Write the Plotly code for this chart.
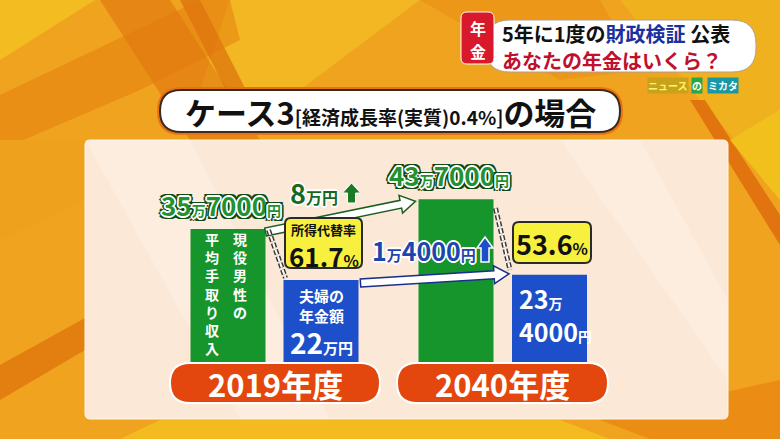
import plotly.graph_objects as go

# ---------------- data ----------------
years = ["2019年度", "2040年度"]
income = [357000, 437000]          # 現役男性の平均手取り収入 (円)
pension = [220000, 234000]         # 夫婦の年金額 (円)
replacement_rate = [61.7, 53.6]    # 所得代替率 (%)
income_label = "現役男性の平均手取り収入"
pension_label = "夫婦の年金額"
rate_label = "所得代替率"
title_main = "ケース3"
title_sub = "[経済成長率(実質)0.4%]"
title_tail = "の場合"
header_tag = ["年", "金"]
header_line1 = ["5年に1度の", "財政検証", " 公表"]
header_line2 = "あなたの年金はいくら？"
logo_parts = ["ニュース", "の", "ミカタ"]

# ---------------- layout constants ----------------
W, H = 780, 439
BASE = 362                 # pixel row of the zero line
K = 133 / 357000           # pixels per yen
FONT = "Noto Sans CJK JP"
GREEN = "#17952d"
BLUE = "#1d4fca"
BAR_W = 75
green_x = [228, 456]
blue_x = [321, 549.5]


def ypx(v):
    return BASE - v * K


def P(y):
    return 1 - y / H


def yen(v):
    man, rest = divmod(int(v), 10000)
    return (man, rest)


def path_from(points):
    return "M " + " L ".join(f"{x:.2f},{P(y):.5f}" for x, y in points) + " Z"


def rrect(x0, y0, x1, y1, r):
    pts = [
        f"M {x0 + r:.2f},{P(y0):.5f}",
        f"L {x1 - r:.2f},{P(y0):.5f}",
        f"Q {x1:.2f},{P(y0):.5f} {x1:.2f},{P(y0 + r):.5f}",
        f"L {x1:.2f},{P(y1 - r):.5f}",
        f"Q {x1:.2f},{P(y1):.5f} {x1 - r:.2f},{P(y1):.5f}",
        f"L {x0 + r:.2f},{P(y1):.5f}",
        f"Q {x0:.2f},{P(y1):.5f} {x0:.2f},{P(y1 - r):.5f}",
        f"L {x0:.2f},{P(y0 + r):.5f}",
        f"Q {x0:.2f},{P(y0):.5f} {x0 + r:.2f},{P(y0):.5f}",
        "Z",
    ]
    return " ".join(pts)


def arrow_poly(x0, y0, x1, y1, hw=4, hh=10, hl=16):
    L = ((x1 - x0) ** 2 + (y1 - y0) ** 2) ** 0.5
    dx, dy = (x1 - x0) / L, (y1 - y0) / L
    nx, ny = -dy, dx
    bx, by = x1 - dx * hl, y1 - dy * hl
    pts = [
        (x0 + nx * hw, y0 + ny * hw),
        (bx + nx * hw, by + ny * hw),
        (bx + nx * hh, by + ny * hh),
        (x1, y1),
        (bx - nx * hh, by - ny * hh),
        (bx - nx * hw, by - ny * hw),
        (x0 - nx * hw, y0 - ny * hw),
    ]
    return path_from(pts)


shapes = []


def add_path(path, fill, line_color=None, line_width=0, layer="above"):
    shapes.append(dict(type="path", xref="x", yref="paper", path=path,
                       fillcolor=fill, layer=layer,
                       line=dict(color=line_color or "rgba(0,0,0,0)", width=line_width)))


def add_poly(points, fill, layer="below"):
    add_path(path_from(points), fill, layer=layer)


# ---------------- background ----------------
add_poly([(0, 0), (W, 0), (W, H), (0, H)], "#efa31e")
add_poly([(0, 0), (95, 0), (0, 60)], "#f3bd22")
add_poly([(230, 0), (420, 0), (300, 90), (200, 90)], "#f2b722")
add_poly([(100, 0), (170, 0), (260, 140), (190, 140)], "rgba(222,112,12,0.55)")
add_poly([(180, 0), (200, 0), (245, 88), (225, 88)], "rgba(215,100,10,0.6)")
add_poly([(0, 95), (0, 150), (140, 90), (240, 40), (230, 0), (200, 0)], "rgba(226,120,14,0.45)")
add_poly([(0, 140), (85, 140), (85, 200), (0, 240)], "#eea11d")
add_poly([(420, 0), (600, 0), (640, 70), (560, 80)], "rgba(236,140,18,0.5)")
add_poly([(620, 0), (W, 0), (W, 130), (735, 140), (700, 100)], "#f0b11f")
add_poly([(690, 100), (705, 100), (W, 215), (W, 245)], "rgba(220,100,10,0.75)")
add_poly([(730, 140), (W, 110), (W, 200)], "#f2c01d")
add_poly([(0, 365), (0, 400), (85, 350), (85, 318)], "rgba(222,110,12,0.7)")
add_poly([(120, H), (160, 420), (560, 420), (610, H)], "#f3bb1f")
add_poly([(600, 420), (W, 380), (W, H), (650, H)], "rgba(232,125,15,0.6)")

# panel
add_path(rrect(85, 140, 728, 419, 5), "#fbe8d7", "#fff6ea", 1, layer="below")
add_poly([(85, 140), (190, 140), (330, 419), (240, 419)], "rgba(255,255,255,0.22)")
add_poly([(560, 140), (640, 140), (728, 300), (728, 380)], "rgba(255,255,255,0.22)")

# title pill
add_path(rrect(157, 87, 623, 135, 24), "#e8740f", layer="below")
add_path(rrect(160, 90, 620, 132, 21), "#ffffff", "#3a2a20", 2, layer="below")

# header
add_path(rrect(486, 20, 756, 72, 24), "#ffffff", "#b0a090", 1, layer="below")
add_path(rrect(461, 12, 494, 64, 6), "#d8192b", "#ffffff", 1, layer="below")

# ---------------- bars ----------------
traces = [
    go.Bar(x=green_x, y=income, width=BAR_W, marker=dict(color=GREEN, line=dict(width=0)),
           hoverinfo="skip", showlegend=False),
    go.Bar(x=blue_x, y=pension, width=BAR_W, marker=dict(color=BLUE, line=dict(width=0)),
           hoverinfo="skip", showlegend=False),
]

gl = [c - BAR_W / 2 for c in green_x]
gr = [c + BAR_W / 2 for c in green_x]
bl = [c - BAR_W / 2 for c in blue_x]
br = [c + BAR_W / 2 for c in blue_x]

# arrows between years
add_path(arrow_poly(gr[0], ypx(income[0]) + 3, gl[1] - 3, ypx(income[1]) + 2, 4, 9, 15),
         "#ffffff", "#1b5e20", 1.5)
add_path(arrow_poly(br[0] + 2, ypx(pension[0]) + 3, bl[1] - 3, ypx(pension[1]) - 1, 4, 9, 15),
         "#ffffff", "#1a2f8a", 1.5)

# chains (ratio links)
for (xa, ya, xb, yb) in [(gr[0] + 3, ypx(income[0]) + 1, bl[0] + 2, ypx(pension[0]) - 2),
                         (gr[1] + 2, ypx(income[1]) + 9, bl[1] - 2, ypx(pension[1]) - 5)]:
    for w, c in [(5, "#3a3a3a"), (2, "#ffffff")]:
        shapes.append(dict(type="line", xref="x", yref="paper", x0=xa, y0=P(ya), x1=xb, y1=P(yb),
                           line=dict(color=c, width=w, dash="5px,2px"), layer="above"))

# yellow ratio boxes
add_path(rrect(285, 218, 362, 268, 6), "#f8f03e", "#2a2a2a", 2)
add_path(rrect(513, 222, 591, 263, 6), "#f8f03e", "#2a2a2a", 2)

# year pills
add_path(rrect(170, 363, 380, 403, 20), "#e3470e", "#ffffff", 2)
add_path(rrect(397, 363, 608, 403, 20), "#e3470e", "#ffffff", 2)


# up arrows
def up_arrow(cx, top, bottom, half_head, half_shaft, head_len):
    return path_from([(cx, top), (cx + half_head, top + head_len), (cx + half_shaft, top + head_len),
                      (cx + half_shaft, bottom), (cx - half_shaft, bottom),
                      (cx - half_shaft, top + head_len), (cx - half_head, top + head_len)])


add_path(up_arrow(351.5, 183, 203, 9, 4, 10), "#1b7a25", "#ffffff", 1)
add_path(up_arrow(485, 237, 262, 8, 4, 11), "#1d4fca", "#ffffff", 1.5)

# ---------------- text ----------------
ann = []


def span(t, s, color=None):
    c = f";color:{color}" if color else ""
    return f"<span style='font-size:{s}px{c}'>{t}</span>"


def outline(c, w=1.2):
    offs = [(-w, -w), (w, -w), (-w, w), (w, w), (0, w * 1.3), (0, -w * 1.3), (w * 1.3, 0), (-w * 1.3, 0)]
    return ", ".join(f"{a}px {b}px 0 {c}" for a, b in offs)


def add_text(x, y, text, size, color, xanchor="center", shadow=None, weight=700, family=FONT, **kw):
    f = dict(family=family, size=size, color=color, weight=weight)
    if shadow:
        f["shadow"] = shadow
    ann.append(dict(x=x, y=P(y), xref="x", yref="paper", text=text, showarrow=False,
                    xanchor=xanchor, yanchor="middle", font=f, **kw))


WHITE_DARK_GREEN = outline("#ffffff", 1.3) + ", " + outline("#0d4a16", 2.6)

# value labels on green bars
for i in range(2):
    man, rest = yen(income[i])
    t = span(man, 26) + span("万", 14) + span(rest, 26) + span("円", 14)
    add_text(green_x[i] - 7, ypx(income[i]) - 25, t, 26, "#22922f", shadow=WHITE_DARK_GREEN)

# differences
d_inc = income[1] - income[0]
man, rest = yen(d_inc)
add_text(314, 192, span(man, 27) + span("万円", 16), 27, "#17691f",
         shadow=outline("#ffffff", 1.2))
d_pen = pension[1] - pension[0]
man, rest = yen(d_pen)
add_text(424, 250, span(man, 25) + span("万", 15) + span(rest, 25) + span("円", 15), 25, "#1c45b0",
         shadow=outline("#ffffff", 1.3))

# ratio boxes
add_text(323.5, 229, rate_label, 13, "#111111")
add_text(323.5, 255, span(f"{replacement_rate[0]:.1f}", 26) + span("%", 16), 26, "#111111")
add_text(552, 243, span(f"{replacement_rate[1]:.1f}", 27) + span("%", 16), 27, "#111111")

# vertical text inside green 2019 bar (right column read first)
right_col, left_col = income_label[:5], income_label[5:]
add_text(green_x[0] + 12, 239 + 18.2 * (len(right_col) - 1) / 2, "<br>".join(right_col), 14,
         "#ffffff")
add_text(green_x[0] - 16, 239 + 18.2 * (len(left_col) - 1) / 2, "<br>".join(left_col), 14,
         "#ffffff")

# blue 2019 bar
man, rest = yen(pension[0])
add_text(blue_x[0], 305, pension_label[:3] + "<br>" + pension_label[3:], 15, "#ffffff")
add_text(blue_x[0], 342, span(man, 28) + span("万円", 15), 28, "#ffffff")

# blue 2040 bar
man, rest = yen(pension[1])
add_text(blue_x[1] - 33, 298, span(man, 25) + span("万", 14), 25, "#ffffff", xanchor="left")
add_text(blue_x[1] - 33, 331, span(rest, 25) + span("円", 14), 25, "#ffffff", xanchor="left")

# year labels
add_text(275, 383, years[0], 31, "#ffffff")
add_text(502.5, 383, years[1], 31, "#ffffff")

# title
t = span(title_main, 31) + span(title_sub, 19) + span(title_tail, 31)
add_text(390, 111, t, 31, "#111111")

# header
add_text(477.5, 28, header_tag[0], 16, "#ffffff", borderpad=0)
add_text(477.5, 51, header_tag[1], 16, "#ffffff", borderpad=0)
h1 = header_line1[0] + span(header_line1[1], 20, "#1b2f9e") + header_line1[2]
add_text(501, 33.5, h1, 20, "#111111", xanchor="left", borderpad=0)
add_text(501, 60.5, header_line2, 20, "#c0102d", xanchor="left", borderpad=0)

# logo
add_text(668, 85, logo_parts[0], 10, "#fff36e", bgcolor="#c8a21a", borderpad=0)
add_text(697, 85, logo_parts[1], 10, "#ffffff", bgcolor="#2aa64a", borderpad=0)
add_text(723, 85, logo_parts[2], 10, "#ffffff", bgcolor="#1898a6", borderpad=0)

fig = go.Figure(traces)
fig.update_layout(
    width=W, height=H, margin=dict(l=0, r=0, t=0, b=0),
    paper_bgcolor="#efa31e", plot_bgcolor="rgba(0,0,0,0)",
    barmode="overlay", showlegend=False,
    xaxis=dict(range=[0, W], visible=False, fixedrange=True),
    yaxis=dict(range=[-(H - BASE) / K, BASE / K], visible=False, fixedrange=True),
    shapes=shapes, annotations=ann,
)
fig.write_html("out.html", config={"displayModeBar": False, "staticPlot": True},
               post_script="document.body.style.margin='0';")
